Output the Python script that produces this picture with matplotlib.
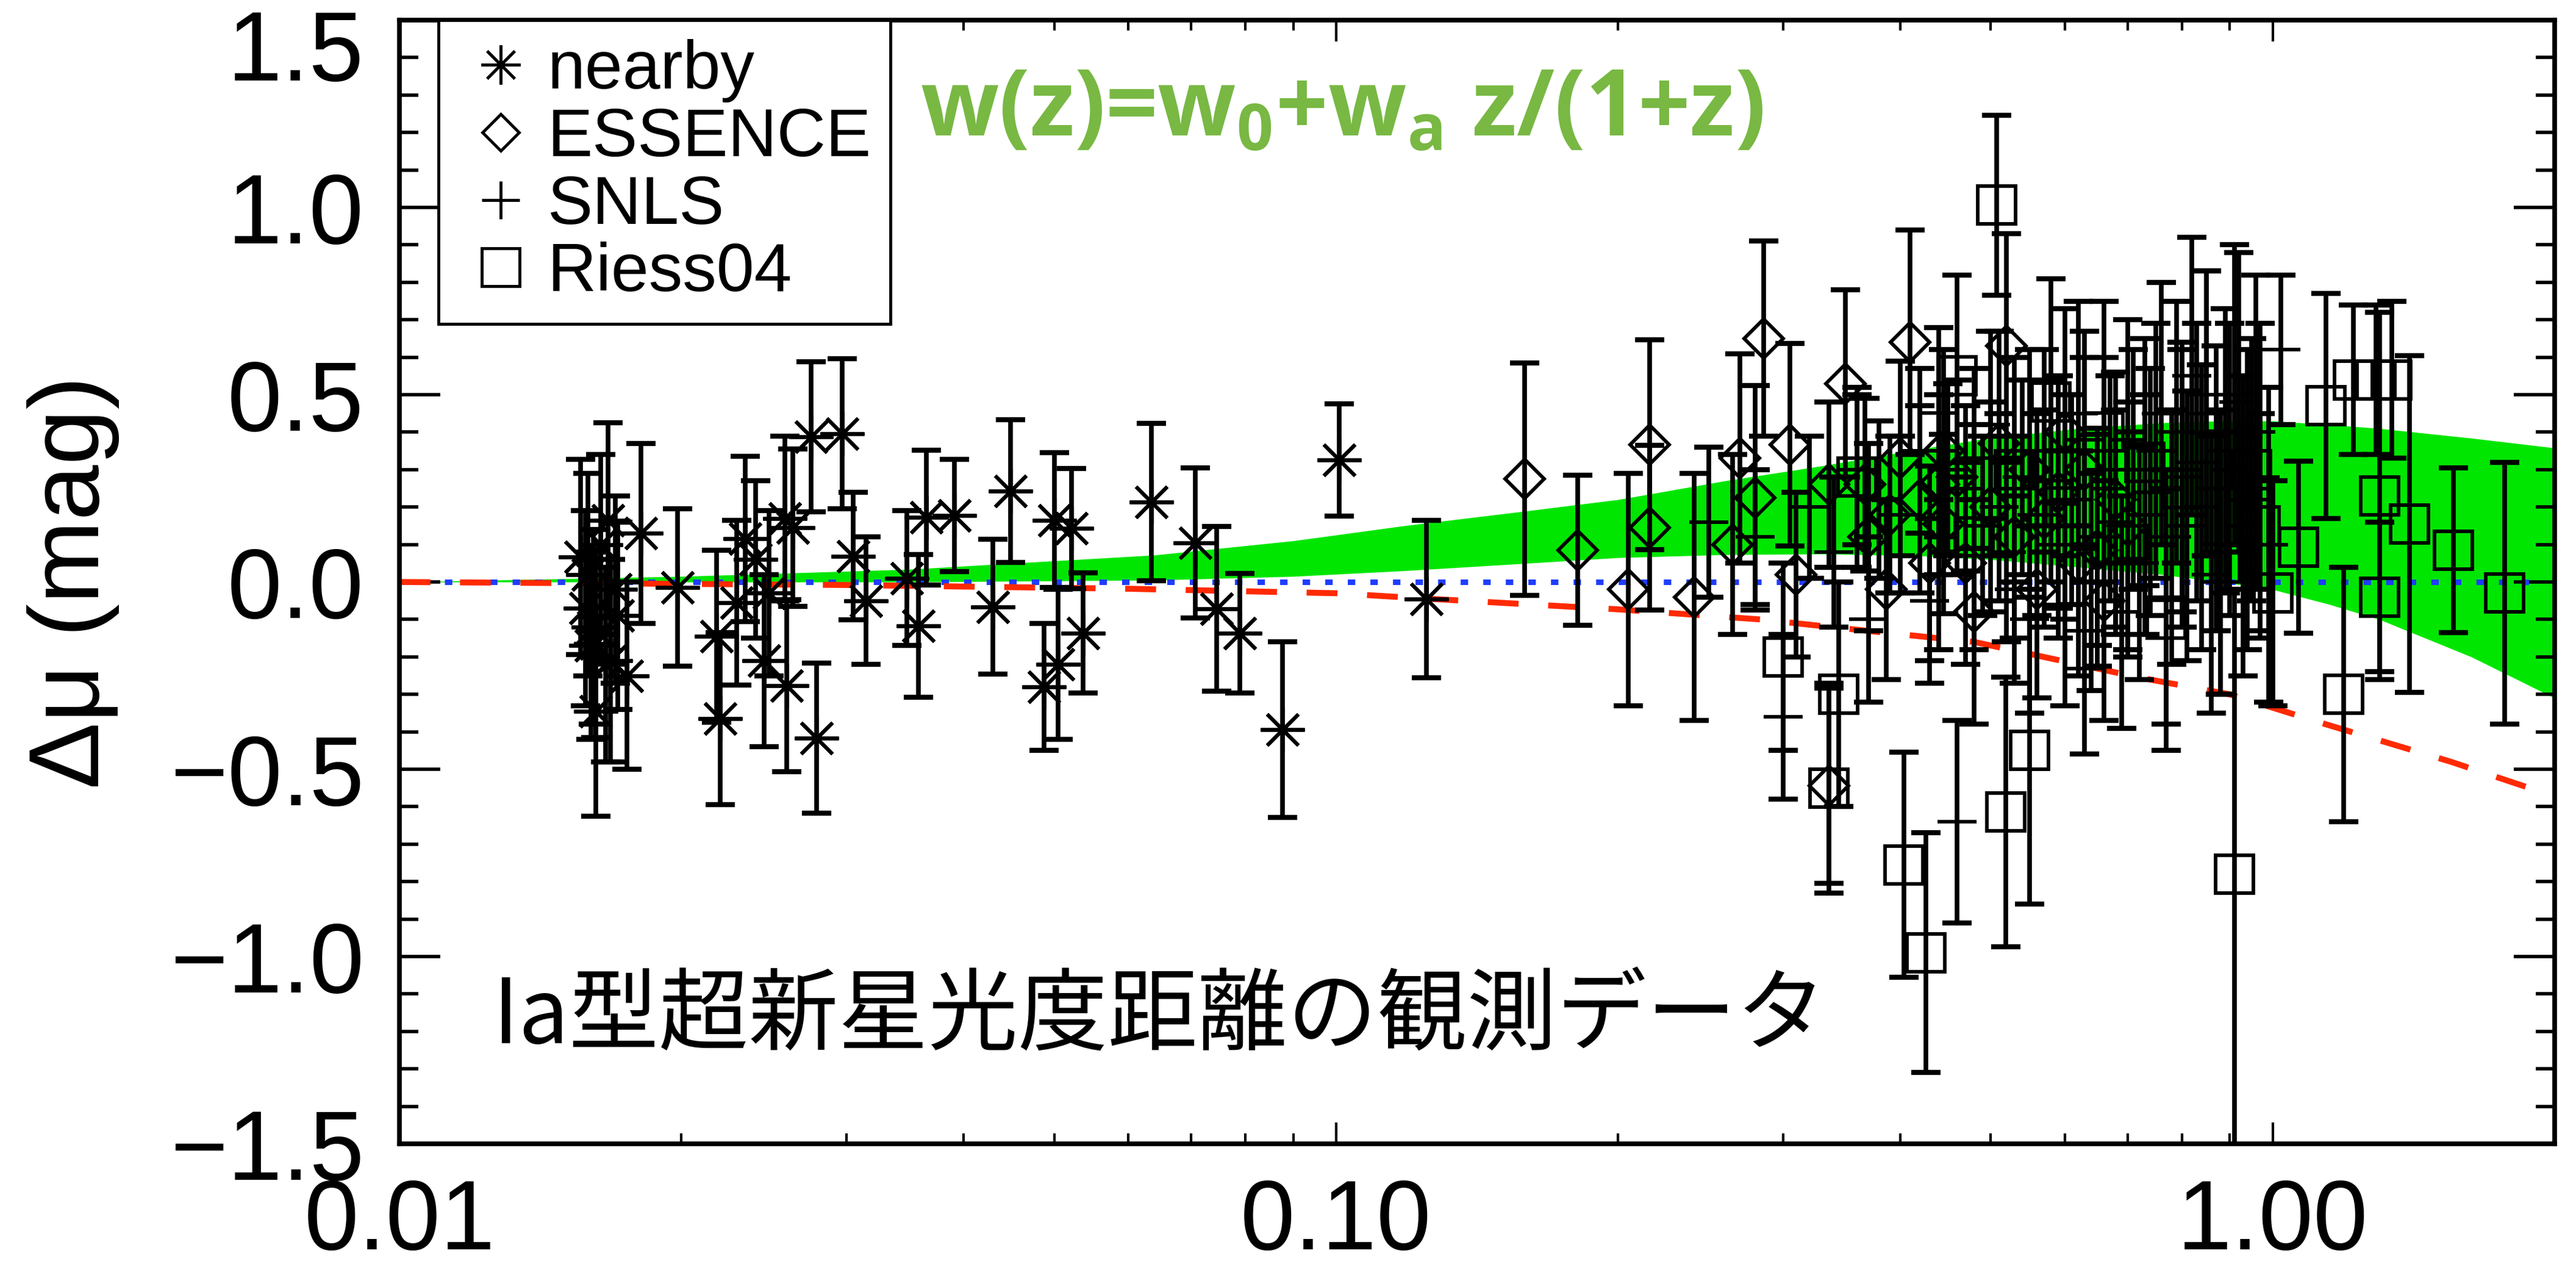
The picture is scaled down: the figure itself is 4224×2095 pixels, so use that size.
import numpy as np
import matplotlib
matplotlib.use('Agg')
import matplotlib.pyplot as plt
from matplotlib.lines import Line2D
from matplotlib.ticker import LogLocator, NullFormatter, MultipleLocator, FuncFormatter
import matplotlib.transforms as mtransforms

# *** Данные ***
# nearby SNe (asterisks)
z_near = [0.0156, 0.0158, 0.0159, 0.0160, 0.0161, 0.0162, 0.0162, 0.0164, 0.0166, 0.0167,
          0.0168, 0.0170, 0.0171, 0.0175, 0.0181, 0.0198, 0.0218, 0.0220, 0.0229, 0.0234,
          0.0240, 0.0245, 0.0248, 0.0258, 0.0259, 0.0263, 0.0275, 0.0279, 0.0297, 0.0305,
          0.0315, 0.0348, 0.0358, 0.0365, 0.0391, 0.0430, 0.0449, 0.0488, 0.0500, 0.0505,
          0.0522, 0.0537, 0.0635, 0.0707, 0.0746, 0.0789, 0.0877, 0.1007, 0.1249]
mu_near = [0.067, -0.07, 0.02, -0.17, -0.12, -0.345, -0.165, 0.10, -0.22, 0.165,
           -0.21, -0.02, -0.09, -0.25, 0.13, -0.015, -0.145, -0.365, -0.055, 0.115,
           0.06, -0.21, -0.03, 0.17, -0.277, 0.145, 0.388, -0.417, 0.396, 0.069,
           -0.05, 0.01, -0.117, 0.172, 0.178, -0.066, 0.243, -0.28, 0.165, -0.22,
           0.143, -0.136, 0.214, 0.104, -0.071, -0.137, -0.394, 0.326, -0.046]
err_near = [0.26, 0.26, 0.27, 0.25, 0.26, 0.28, 0.25, 0.24, 0.26, 0.26,
            0.27, 0.25, 0.25, 0.25, 0.24, 0.21, 0.23, 0.23, 0.22, 0.22,
            0.21, 0.23, 0.22, 0.22, 0.23, 0.21, 0.20, 0.20, 0.20, 0.17,
            0.17, 0.18, 0.19, 0.18, 0.15, 0.18, 0.19, 0.17, 0.18, 0.20,
            0.16, 0.16, 0.21, 0.20, 0.22, 0.16, 0.235, 0.15, 0.21]

# ESSENCE (diamonds)
z_ess = [0.159, 0.181, 0.205, 0.216, 0.216, 0.241, 0.265, 0.270, 0.280, 0.286,
         0.305, 0.310, 0.336, 0.336, 0.350, 0.367, 0.370, 0.387, 0.390, 0.400,
         0.410, 0.420, 0.430, 0.440, 0.445, 0.445, 0.460, 0.470, 0.480, 0.500,
         0.510, 0.520, 0.530, 0.550, 0.560, 0.570, 0.590, 0.600, 0.620, 0.630,
         0.650, 0.660, 0.680, 0.700]
mu_ess = [0.275, 0.085, -0.02, 0.366, 0.145, -0.04, 0.10, 0.33, 0.225, 0.65,
          0.367, 0.02, -0.544, 0.26, 0.53, 0.26, 0.12, -0.02, 0.18, 0.33,
          0.64, 0.22, 0.05, 0.26, 0.155, 0.35, 0.28, 0.05, -0.08, 0.20,
          0.37, 0.63, 0.12, 0.30, -0.02, 0.17, 0.24, 0.40, 0.05, 0.30,
          0.085, -0.05, 0.22, 0.15]
err_ess = [0.31, 0.20, 0.31, 0.28, 0.22, 0.33, 0.24, 0.28, 0.30, 0.26,
           0.27, 0.22, 0.26, 0.22, 0.25, 0.23, 0.25, 0.24, 0.21, 0.26,
           0.30, 0.25, 0.26, 0.24, 0.24, 0.27, 0.26, 0.27, 0.30, 0.28,
           0.30, 0.30, 0.27, 0.32, 0.29, 0.29, 0.31, 0.33, 0.30, 0.30,
           0.31, 0.32, 0.34, 0.33]

# SNLS (plus)
z_snls = [0.25, 0.28, 0.30, 0.32, 0.34, 0.36, 0.37, 0.38, 0.40, 0.42,
          0.43, 0.44, 0.45, 0.46, 0.47, 0.48, 0.49, 0.50, 0.51, 0.52,
          0.53, 0.54, 0.55, 0.56, 0.57, 0.58, 0.59, 0.60, 0.61, 0.62,
          0.63, 0.64, 0.65, 0.66, 0.67, 0.68, 0.69, 0.70, 0.71, 0.72,
          0.73, 0.74, 0.75, 0.76, 0.77, 0.78, 0.79, 0.80, 0.81, 0.82,
          0.83, 0.84, 0.85, 0.86, 0.87, 0.88, 0.89, 0.90, 0.91, 0.92,
          0.93, 0.94, 0.96, 0.97, 0.99, 1.02]
mu_snls = [0.16, 0.12, -0.36, 0.20, 0.08, 0.30, -0.10, 0.22, 0.18, 0.35,
           -0.05, 0.02, 0.30, -0.64, 0.25, 0.33, 0.15, 0.42, 0.20, 0.08,
           -0.02, 0.28, -0.10, 0.18, 0.35, 0.27, 0.10, -0.06, 0.22, 0.45,
           0.38, 0.00, 0.12, 0.30, 0.25, 0.16, -0.08, 0.38, 0.30, 0.05,
           0.18, 0.24, 0.35, 0.45, -0.04, 0.12, 0.40, 0.28, 0.15, 0.55,
           0.32, 0.20, 0.45, 0.02, 0.25, 0.08, 0.35, 0.30, 0.50, 0.48,
           0.15, 0.22, 0.40, 0.28, 0.10, 0.62]
err_snls = [0.20, 0.18, 0.22, 0.19, 0.20, 0.20, 0.22, 0.21, 0.21, 0.22,
            0.22, 0.20, 0.23, 0.27, 0.22, 0.24, 0.24, 0.25, 0.25, 0.24,
            0.25, 0.26, 0.25, 0.27, 0.27, 0.27, 0.25, 0.27, 0.28, 0.30,
            0.29, 0.29, 0.29, 0.30, 0.30, 0.30, 0.31, 0.32, 0.32, 0.31,
            0.32, 0.33, 0.34, 0.35, 0.34, 0.34, 0.35, 0.36, 0.36, 0.37,
            0.37, 0.38, 0.38, 0.37, 0.38, 0.38, 0.38, 0.39, 0.40, 0.40,
            0.40, 0.40, 0.42, 0.41, 0.42, 0.20]

# Riess04 gold (squares)
z_riess = [0.300, 0.336, 0.344, 0.360, 0.404, 0.426, 0.440, 0.460, 0.480, 0.507,
           0.519, 0.530, 0.550, 0.580, 0.600, 0.630, 0.660, 0.700, 0.730, 0.770,
           0.800, 0.850, 0.880, 0.911, 0.950, 0.970, 1.000, 1.066, 1.140, 1.190,
           1.220, 1.290, 1.300, 1.300, 1.340, 1.400, 1.560, 1.770]
mu_riess = [-0.20, -0.55, -0.30, 0.28, -0.755, -0.99, 0.40, 0.55, 0.12, 1.006,
            -0.614, 0.30, -0.45, 0.48, 0.20, -0.18, 0.40, 0.10, 0.32, -0.10,
            0.25, 0.45, 0.05, -0.78, 0.30, 0.15, -0.03, 0.093, 0.47, -0.30,
            0.54, 0.54, 0.23, -0.04, 0.54, 0.155, 0.085, -0.03]
err_riess = [0.25, 0.28, 0.30, 0.24, 0.30, 0.32, 0.28, 0.27, 0.30, 0.24,
             0.36, 0.30, 0.41, 0.33, 0.30, 0.28, 0.35, 0.30, 0.33, 0.35,
             0.37, 0.38, 0.35, 0.76, 0.35, 0.30, 0.30, 0.23, 0.30, 0.34,
             0.20, 0.20, 0.49, 0.20, 0.21, 0.45, 0.22, 0.35]

# зелёная полоса w(z)=w0+wa z/(1+z)
z_band = [0.01, 0.02, 0.035, 0.064, 0.09, 0.118, 0.16, 0.2, 0.26, 0.33, 0.42,
          0.5, 0.62, 0.76, 0.88, 1.0, 1.15, 1.3, 1.63, 2.0]
band_hi = [0.0, 0.015, 0.034, 0.072, 0.11, 0.15, 0.19, 0.22, 0.27, 0.31, 0.355,
           0.385, 0.41, 0.425, 0.43, 0.43, 0.42, 0.41, 0.384, 0.358]
band_lo = [0.0, 0.0, 0.0, 0.005, 0.015, 0.03, 0.05, 0.065, 0.073, 0.075, 0.07,
           0.06, 0.04, 0.02, 0.0, -0.02, -0.06, -0.10, -0.20, -0.31]

# красная штриховая модель
z_model = [0.01, 0.03, 0.06, 0.1, 0.124, 0.2, 0.284, 0.337, 0.48, 0.72, 0.9, 1.14, 1.55, 1.88]
mu_model = [0.0, -0.008, -0.018, -0.03, -0.044, -0.073, -0.10, -0.12, -0.16, -0.255,
            -0.30, -0.38, -0.48, -0.55]

# Colors
c_band = '#00e600'
c_red = '#ff2a00'
c_blue = '#1f3cff'
c_formula = '#78b843'

plt.rcParams['font.family'] = ['Liberation Sans', 'DejaVu Sans']
plt.rcParams['mathtext.fontset'] = 'custom'
plt.rcParams['mathtext.rm'] = 'Open Sans:bold'
plt.rcParams['mathtext.default'] = 'rm'

asterisk = (8, 2, 0)
marker_ew = 4.2


def draw_sample(ax, z, mu, err, marker, ms):
    ax.errorbar(z, mu, yerr=err, fmt='none', ecolor='k', elinewidth=5.5,
                capsize=17, capthick=6, zorder=3)
    ax.plot(z, mu, linestyle='none', marker=marker, markersize=ms, markerfacecolor='none',
            markeredgecolor='k', markeredgewidth=marker_ew, zorder=4)


fig = plt.figure(figsize=(42.24, 20.95), dpi=100)
ax = fig.add_axes([0.1551, 0.105, 0.8366, 0.8792])

ax.fill_between(z_band, band_lo, band_hi, color=c_band, linewidth=0, zorder=1)
ax.axhline(0.0, xmax=0.993, color=c_blue, linewidth=6.5, dashes=(1.35, 2.75), zorder=2)
ax.plot(z_model, mu_model, color=c_red, linewidth=7, dashes=(5.2, 5.0), zorder=2)

draw_sample(ax, z_near, mu_near, err_near, asterisk, 52)
draw_sample(ax, z_ess, mu_ess, err_ess, 'D', 33)
draw_sample(ax, z_snls, mu_snls, err_snls, '+', 46)
draw_sample(ax, z_riess, mu_riess, err_riess, 's', 44)

# Оси
ax.set_xscale('log')
ax.set_xlim(0.01, 2.0)
ax.set_ylim(-1.5, 1.5)
ax.set_xticks([0.01, 0.1, 1.0])
ax.set_xticklabels(['0.01', '0.10', '1.00'])
ax.xaxis.set_minor_locator(LogLocator(base=10, subs=np.arange(2, 10)))
ax.xaxis.set_minor_formatter(NullFormatter())
ax.set_yticks(np.arange(-1.5, 1.51, 0.5))
ax.yaxis.set_major_formatter(FuncFormatter(
    lambda v, p: '' if v > 1.4 else ('%.1f' % v).replace('-', '\u2212')))
ax.yaxis.set_minor_locator(MultipleLocator(0.1))

ax.tick_params(axis='x', which='major', direction='in', length=25, width=3, top=True,
               pad=40, labelsize=116)
ax.tick_params(axis='x', which='minor', direction='in', length=12, width=3, top=True)
ax.tick_params(axis='y', which='major', direction='in', length=48, width=4, right=True,
               pad=42, labelsize=116)
ax.tick_params(axis='y', which='minor', direction='in', length=22, width=4, right=True)
for sp in ax.spines.values():
    sp.set_linewidth(5.5)

# верхняя метка 1.5 сдвинута вниз как в оригинале
trans = mtransforms.blended_transform_factory(ax.transAxes, ax.transData)
ax.text(-0.0165, 1.53, '1.5', transform=trans, ha='right', va='top', fontsize=116, clip_on=False)

ax.set_ylabel('\u0394\u03bc (mag)', fontsize=118)
ax.yaxis.set_label_coords(-0.13, 0.5)

# Legend
handles = [Line2D([], [], linestyle='none', marker=asterisk, markersize=46, markerfacecolor='none',
                  markeredgecolor='k', markeredgewidth=3.5),
           Line2D([], [], linestyle='none', marker='D', markersize=31, markerfacecolor='none',
                  markeredgecolor='k', markeredgewidth=3.5),
           Line2D([], [], linestyle='none', marker='+', markersize=44, markerfacecolor='none',
                  markeredgecolor='k', markeredgewidth=3.5),
           Line2D([], [], linestyle='none', marker='s', markersize=44, markerfacecolor='none',
                  markeredgecolor='k', markeredgewidth=3.5)]
leg = ax.legend(handles, ['nearby', 'ESSENCE', 'SNLS', 'Riess04'], loc='upper left',
                bbox_to_anchor=(0.018, 1.0), borderaxespad=0, fontsize=80,
                borderpad=0.28, labelspacing=0.06, handlelength=1.28, handletextpad=0.05,
                fancybox=False, framealpha=1, edgecolor='k')
leg.get_frame().set_linewidth(3.5)
leg.set_zorder(5)

ax.text(0.2417, 0.897, 'w(z)=w$_0$+w$_a$ z/(1+z)', transform=ax.transAxes, fontsize=108,
        family='Open Sans', fontweight='bold', color=c_formula, va='baseline', ha='left', zorder=6)
ax.text(0.043, 0.09, 'Ia型超新星光度距離の観測データ', transform=ax.transAxes, fontsize=106,
        family=['Noto Sans CJK JP', 'DejaVu Sans'], va='baseline', ha='left', zorder=6)

fig.savefig('out.png', dpi=100)
